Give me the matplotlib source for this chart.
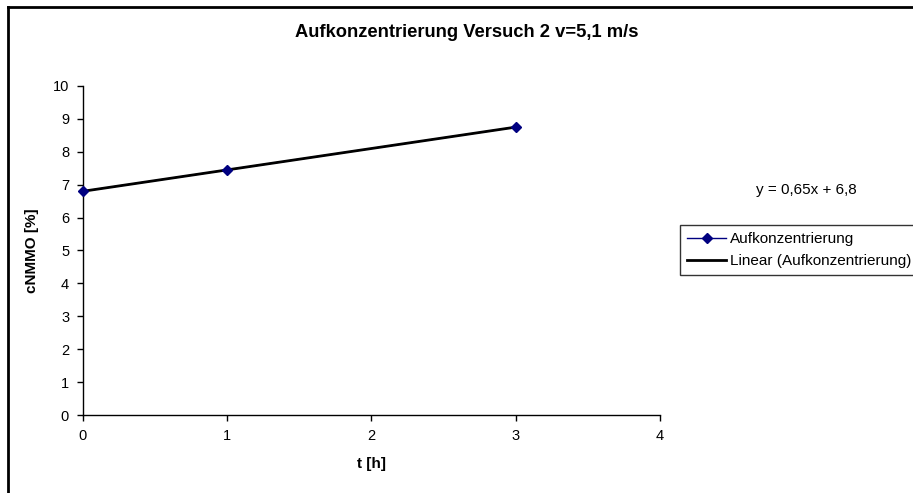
import matplotlib
matplotlib.use("Agg")
import matplotlib.pyplot as plt
from matplotlib.lines import Line2D
import numpy as np

plt.rcParams['font.family'] = ['Liberation Sans', 'DejaVu Sans']

t_h = [0, 1, 3]
conc = [6.8, 7.45, 8.75]
slope, intercept = 0.65, 6.8
x_ticks = [0, 1, 2, 3, 4]
y_ticks = list(range(0, 11))

fig = plt.figure(figsize=(9.13, 4.93), dpi=100)
ax = fig.add_axes([0.0909, 0.1582, 0.6320, 0.6674])

# data line, trendline on top, then markers
ax.plot(t_h, conc, color='#000080', lw=1, zorder=2)
xt = np.array([min(t_h), max(t_h)])
ax.plot(xt, slope * xt + intercept, color='black', lw=2.0, zorder=3)
ax.plot(t_h, conc, linestyle='none', marker='D', markersize=5,
        markerfacecolor='#000080', markeredgecolor='#000080', zorder=4, clip_on=False)

ax.set_xlim(0, 4)
ax.set_ylim(0, 10)
ax.set_xticks(x_ticks)
ax.set_yticks(y_ticks)
for s in ['top', 'right']:
    ax.spines[s].set_visible(False)
for s in ['left', 'bottom']:
    ax.spines[s].set_linewidth(1.0)
ax.tick_params(axis='both', direction='out', length=4, width=1, labelsize=10.5, pad=6)
ax.set_xlabel('t [h]', fontsize=11, fontweight='bold', labelpad=10)
ax.set_ylabel('cNMMO [%]', fontsize=11, fontweight='bold', labelpad=10)

fig.text(0.511, 0.935, 'Aufkonzentrierung Versuch 2 v=5,1 m/s', ha='center', va='center',
         fontsize=13.2, fontweight='bold')
fig.text(0.883, 0.615, 'y = 0,65x + 6,8', ha='center', va='center', fontsize=11)

handles = [Line2D([0], [0], color='#000080', lw=1, marker='D', markersize=5),
           Line2D([0], [0], color='black', lw=2)]
leg = fig.legend(handles, ['Aufkonzentrierung', 'Linear (Aufkonzentrierung)'],
                 loc='upper left', bbox_to_anchor=(0.745, 0.5436), fontsize=11,
                 frameon=True, fancybox=False, edgecolor='black', borderpad=0.45,
                 handlelength=2.55, handletextpad=0.25, labelspacing=0.55, borderaxespad=0)
leg.get_frame().set_linewidth(1.0)

# outer chart border
fig.add_artist(Line2D([0.0087, 0.0087], [0, 0.986], color='black', lw=2, transform=fig.transFigure))
fig.add_artist(Line2D([0.0087, 1.0], [0.986, 0.986], color='black', lw=2, transform=fig.transFigure))

fig.savefig('out.png', dpi=100)
